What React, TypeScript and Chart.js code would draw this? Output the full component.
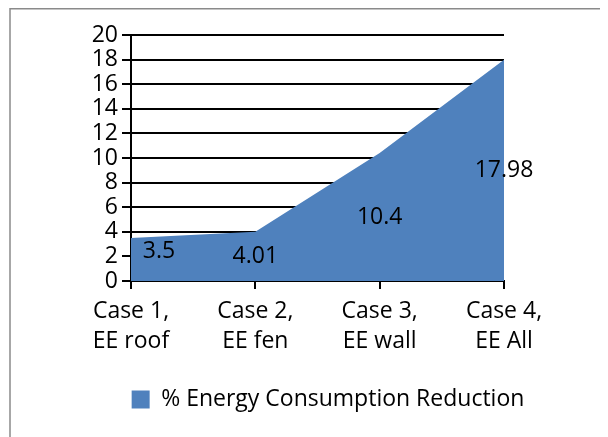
import React, { useEffect, useRef } from "react";
import { Chart, registerables } from "chart.js";

Chart.register(...registerables);

const categories: string[][] = [
  ["Case 1,", "EE roof"],
  ["Case 2,", "EE fen"],
  ["Case 3,", "EE wall"],
  ["Case 4,", "EE All"],
];
const seriesName = "% Energy Consumption Reduction";
const reductionValues: number[] = [3.5, 4.01, 10.4, 17.98];
const yMin = 0;
const yMax = 20;
const yStep = 2;

const FONT = "'Open Sans', sans-serif";
const FS = 23;

const frameBorder = {
  id: "frameBorder",
  beforeDraw(chart: any) {
    const ctx = chart.ctx;
    ctx.save();
    ctx.strokeStyle = "#8a8a8a";
    ctx.lineWidth = 1.5;
    ctx.beginPath();
    ctx.moveTo(2, chart.height);
    ctx.lineTo(2, 0.75);
    ctx.lineTo(chart.width, 0.75);
    ctx.stroke();
    ctx.restore();
  },
};

const valueLabels = {
  id: "valueLabels",
  afterDatasetsDraw(chart: any) {
    const ctx = chart.ctx;
    const meta = chart.getDatasetMeta(0);
    const yScale = chart.scales.y;
    const data = chart.data.datasets[0].data as number[];
    ctx.save();
    ctx.font = `${FS}px ${FONT}`;
    ctx.fillStyle = "#000";
    ctx.textAlign = "center";
    ctx.textBaseline = "middle";
    meta.data.forEach((pt: any, i: number) => {
      const v = data[i];
      let x = pt.x;
      let y = yScale.getPixelForValue(v / 2);
      if (i === 0) {
        x += 28;
        y -= 8;
      }
      ctx.fillText(String(v), x, y);
    });
    ctx.restore();
  },
};

export default function App() {
  const ref = useRef<HTMLCanvasElement | null>(null);
  useEffect(() => {
    if (!ref.current) return;
    const chart = new Chart(ref.current, {
      type: "line",
      data: {
        labels: categories,
        datasets: [
          {
            label: seriesName,
            data: reductionValues,
            fill: "origin",
            backgroundColor: "#4f81bd",
            borderColor: "#4f81bd",
            borderWidth: 0,
            pointRadius: 0,
            pointHoverRadius: 0,
            tension: 0,
          },
        ],
      },
      options: {
        animation: false,
        responsive: true,
        maintainAspectRatio: false,
        layout: { padding: { top: 27, left: 40, right: 0, bottom: 16 } },
        plugins: {
          tooltip: { enabled: false },
          legend: {
            position: "bottom",
            labels: {
              boxWidth: 18,
              boxHeight: 18,
              padding: 10,
              color: "#000",
              font: { family: FONT, size: FS },
            },
          },
        },
        scales: {
          x: {
            offset: false,
            grid: {
              drawOnChartArea: false,
              drawTicks: true,
              tickLength: 8,
              color: "#000",
              lineWidth: 2,
            },
            border: { display: true, color: "#000", width: 2 },
            ticks: {
              color: "#000",
              padding: 7,
              maxRotation: 0,
              autoSkip: false,
              font: { family: FONT, size: FS, lineHeight: 1.32 },
            },
            afterFit(scale: any) {
              scale.height = 97;
            },
          },
          y: {
            min: yMin,
            max: yMax,
            grid: {
              color: "#000",
              lineWidth: 2,
              drawTicks: true,
              tickLength: 9,
            },
            border: { display: true, color: "#000", width: 2 },
            ticks: {
              stepSize: yStep,
              autoSkip: false,
              color: "#000",
              padding: 4,
              font: { family: FONT, size: FS, lineHeight: 1 },
            },
            afterFit(scale: any) {
              scale.width = 83;
            },
          },
          yPad: {
            position: "right",
            display: true,
            grid: { display: false },
            border: { display: false },
            ticks: { display: false },
            afterFit(scale: any) {
              scale.width = 104;
            },
          },
        },
      },
      plugins: [frameBorder, valueLabels],
    });
    return () => chart.destroy();
  }, []);
  return (
    <div style={{ width: 600, height: 429, position: "relative" }}>
      <canvas ref={ref} />
    </div>
  );
}
